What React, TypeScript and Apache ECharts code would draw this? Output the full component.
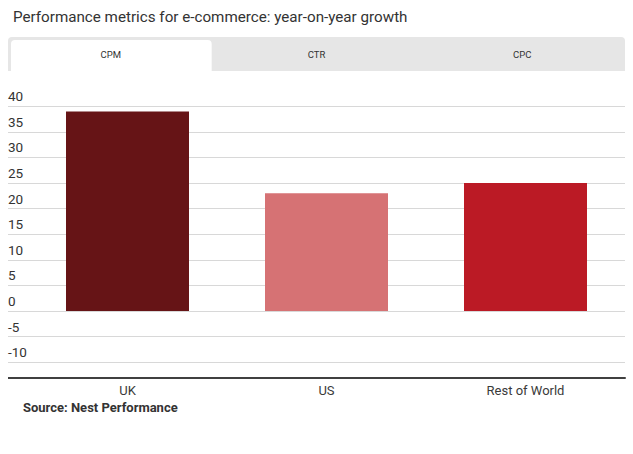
import React, { useEffect, useRef } from "react";
import * as echarts from "echarts";

const TITLE = "Performance metrics for e-commerce: year-on-year growth";
const TABS = ["CPM", "CTR", "CPC"];
const CATEGORIES = ["UK", "US", "Rest of World"];
const VALUES = [39, 23, 25];
const BAR_COLORS = ["#661416", "#d67274", "#bb1a25"];
const Y_TICKS = [-10, -5, 0, 5, 10, 15, 20, 25, 30, 35, 40];
const Y_MIN = -13.1;
const Y_MAX = 40;
const SOURCE = "Source: Nest Performance";

const W = 633;
const H = 454;
const GRID_LEFT = 28;
const GRID_RIGHT = 8;
const GRID_TOP = 106.3;
const GRID_BOTTOM = 76;
const FONT = "Roboto, 'Noto Sans', sans-serif";

export default function App() {
  const ref = useRef<HTMLDivElement>(null);
  useEffect(() => {
    if (!ref.current) return;
    const chart = echarts.init(ref.current, undefined, { renderer: "svg" });
    const tabW = (W - 16) / TABS.length;
    const axisY = H - GRID_BOTTOM;
    chart.setOption({
      animation: false,
      textStyle: { fontFamily: FONT },
      grid: { left: GRID_LEFT, right: GRID_RIGHT, top: GRID_TOP, bottom: GRID_BOTTOM, containLabel: false },
      graphic: [
        {
          type: "text",
          left: 13,
          top: 9,
          style: { text: TITLE, fontSize: 15.2, fill: "#333", fontFamily: FONT },
        },
        {
          type: "rect",
          shape: { x: 8, y: 37, width: W - 16, height: 34, r: [4, 4, 0, 0] },
          style: { fill: "#e6e6e6" },
        },
        {
          type: "rect",
          shape: { x: 11, y: 40, width: tabW - 5, height: 31, r: [4, 4, 0, 0] },
          style: { fill: "#ffffff" },
        },
        ...TABS.map((t, i) => ({
          type: "text",
          x: 8 + tabW * (i + 0.5),
          y: 54,
          style: {
            text: t,
            fontSize: 9.5,
            fill: "#333",
            align: "center",
            verticalAlign: "middle",
            fontFamily: FONT,
          },
        })),
        {
          type: "rect",
          z: 100,
          shape: { x: 8, y: axisY - 1, width: GRID_LEFT - 8 + 1, height: 2 },
          style: { fill: "#404040" },
        },
        {
          type: "text",
          left: 23,
          top: 401,
          style: { text: SOURCE, fontSize: 13, fontWeight: "bold", fill: "#333", fontFamily: FONT },
        },
      ],
      xAxis: {
        type: "category",
        data: CATEGORIES,
        axisLine: { show: true, onZero: false, lineStyle: { color: "#404040", width: 2 } },
        axisTick: { show: false },
        axisLabel: { color: "#3a3a3a", fontSize: 13, margin: 6, fontFamily: FONT },
        z: 10,
      },
      yAxis: {
        type: "value",
        min: Y_MIN,
        max: Y_MAX,
        minInterval: 5,
        maxInterval: 5,
        axisLine: { show: false },
        axisTick: {
          show: true,
          length: 20,
          customValues: Y_TICKS,
          lineStyle: { color: "#d8d8d8", width: 1 },
        },
        splitLine: { show: true, lineStyle: { color: "#d8d8d8", width: 1 } },
        axisLabel: {
          customValues: Y_TICKS,
          margin: 20,
          align: "left",
          verticalAlign: "bottom",
          padding: [0, 0, 3, 0],
          color: "#333",
          fontSize: 13.5,
          fontFamily: FONT,
        },
      },
      series: [
        {
          type: "bar",
          barWidth: 123,
          data: VALUES.map((v, i) => ({ value: v, itemStyle: { color: BAR_COLORS[i] } })),
        },
      ],
    });
    return () => chart.dispose();
  }, []);
  return (
    <div
      ref={ref}
      style={{ position: "fixed", left: 0, top: 0, width: W, height: H, background: "#fff" }}
    />
  );
}
